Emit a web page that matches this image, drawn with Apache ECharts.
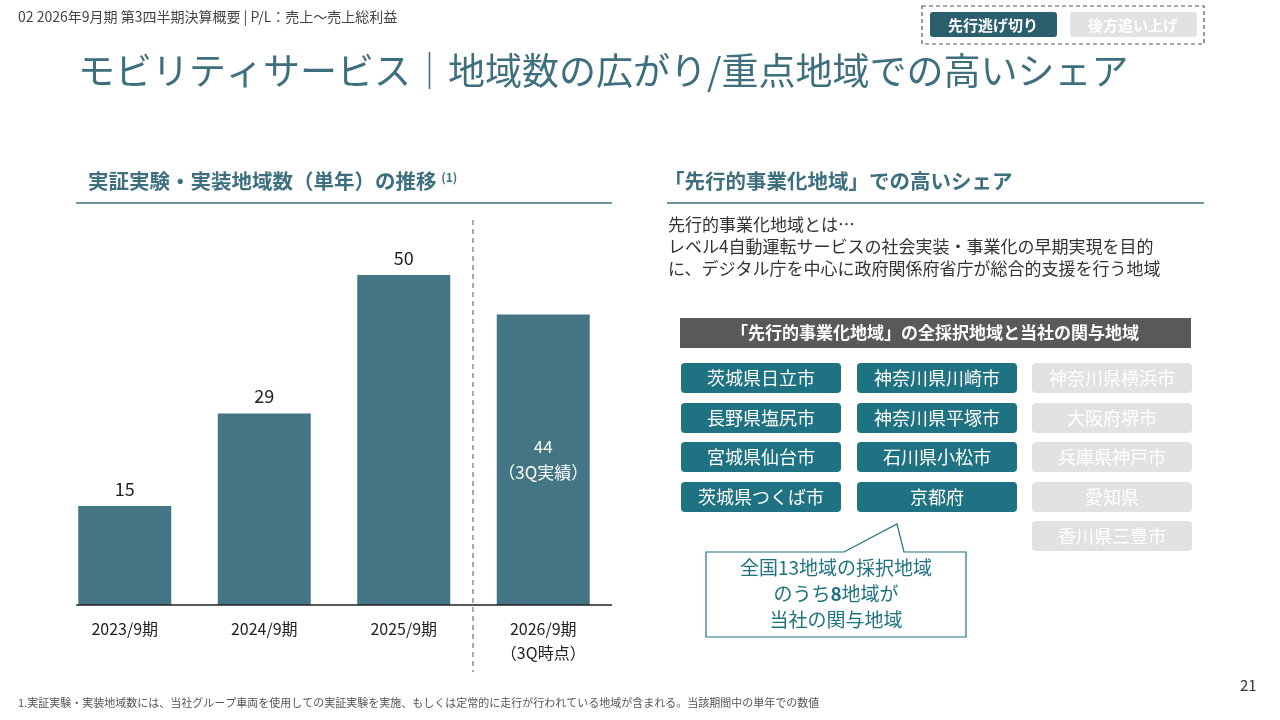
<!DOCTYPE html>
<html><head><meta charset="utf-8">
<script src="https://cdn.jsdelivr.net/npm/echarts@6/dist/echarts.min.js"></script>
<style>html,body{margin:0;padding:0;background:#fff}#c{width:1280px;height:720px}</style>
</head><body><div id="c"></div>
<script>
const categories = ['2023/9期','2024/9期','2025/9期','2026/9期\n（3Q時点）'];
const values = [15, 29, 50, 44];
const activeRegions = ['茨城県日立市','長野県塩尻市','宮城県仙台市','茨城県つくば市','神奈川県川崎市','神奈川県平塚市','石川県小松市','京都府'];
const otherRegions = ['神奈川県横浜市','大阪府堺市','兵庫県神戸市','愛知県','香川県三豊市'];

const F = '"Noto Sans CJK JP","Noto Sans",sans-serif';
const TEAL = '#3d6f7f', BOX = '#1f7282';
const chart = echarts.init(document.getElementById('c'));
const g = [];
function txt(x,y,t,o){g.push({type:'text',left:x,top:y,style:Object.assign({text:t,font:'14px '+F,fill:'#333'},o||{})});}
function txtC(x,y,t,o){g.push({type:'text',x:x,y:y,style:Object.assign({text:t,font:'14px '+F,fill:'#333',textAlign:'center',textVerticalAlign:'middle'},o||{})});}
txt(18,10,'02 2026年9月期 第3四半期決算概要 | P/L：売上〜売上総利益',{font:'14px '+F,fill:'#444'});
txt(78,52,'モビリティサービス｜地域数の広がり/重点地域での高いシェア',{font:'37px '+F,fill:TEAL});
g.push({type:'rect',shape:{x:922,y:6,width:282,height:38},style:{fill:'none',stroke:'#555',lineDash:[4,3],lineWidth:1.2}});
g.push({type:'rect',shape:{x:930,y:12,width:127,height:25,r:3},style:{fill:'#2b5f6e'}});
txtC(993,25,'先行逃げ切り',{font:'bold 15px '+F,fill:'#fff'});
g.push({type:'rect',shape:{x:1070,y:12,width:127,height:25,r:3},style:{fill:'#e2e2e2'}});
txtC(1133,25,'後方追い上げ',{font:'bold 15px '+F,fill:'#fff'});
// left section
g.push({type:'text',left:88,top:171,style:{rich:{a:{font:'bold 20.5px '+F,fill:TEAL},b:{font:'bold 12px '+F,fill:TEAL,verticalAlign:'top',padding:[0,0,8,0]}},text:'{a|実証実験・実装地域数（単年）の推移 }{b|(1)}'}});
g.push({type:'line',shape:{x1:76,y1:203,x2:612,y2:203},style:{stroke:TEAL,lineWidth:1.5}});
g.push({type:'line',shape:{x1:473,y1:220,x2:473,y2:672},style:{stroke:'#555',lineDash:[5,4],lineWidth:1}});
g.push({type:'line',shape:{x1:76,y1:605,x2:612,y2:605},style:{stroke:'#222',lineWidth:1.5},z:10});
// right section
txt(664,171,'「先行的事業化地域」での高いシェア',{font:'bold 20.5px '+F,fill:TEAL});
g.push({type:'line',shape:{x1:667,y1:203,x2:1204,y2:203},style:{stroke:TEAL,lineWidth:1.5}});
txt(668,214,'先行的事業化地域とは…\nレベル4自動運転サービスの社会実装・事業化の早期実現を目的\nに、デジタル庁を中心に政府関係府省庁が総合的支援を行う地域',{font:'17px '+F,fill:'#333',lineHeight:22});
g.push({type:'rect',shape:{x:680,y:318,width:511,height:30},style:{fill:'#595959'}});
txtC(935,333,'「先行的事業化地域」の全採択地域と当社の関与地域',{font:'bold 17px '+F,fill:'#fff'});
const cols=[681,857,1032], W=160, H=30, rows=[363,403,442,482,521];
activeRegions.forEach((r,i)=>{const c=Math.floor(i/4), rr=i%4;
  g.push({type:'rect',shape:{x:cols[c],y:rows[rr],width:W,height:H,r:4},style:{fill:BOX}});
  txtC(cols[c]+W/2,rows[rr]+H/2,r,{font:'18px '+F,fill:'#fff'});});
otherRegions.forEach((r,i)=>{
  g.push({type:'rect',shape:{x:cols[2],y:rows[i],width:W,height:H,r:4},style:{fill:'#e2e2e2'}});
  txtC(cols[2]+W/2,rows[i]+H/2,r,{font:'18px '+F,fill:'#fff'});});
g.push({type:'polygon',shape:{points:[[706,552],[844,552],[897,524],[904,552],[966,552],[966,637],[706,637]]},style:{fill:'#fff',stroke:BOX,lineWidth:1.2}});
g.push({type:'text',x:836,y:594,style:{rich:{n:{font:'19px '+F,fill:BOX,lineHeight:26},b:{font:'bold 19px '+F,fill:BOX,lineHeight:26}},text:'{n|全国13地域の採択地域}\n{n|のうち}{b|8}{n|地域が}\n{n|当社の関与地域}',textAlign:'center',textVerticalAlign:'middle'}});
txt(18,697,'1.実証実験・実装地域数には、当社グループ車両を使用しての実証実験を実施、もしくは定常的に走行が行われている地域が含まれる。当該期間中の単年での数値',{font:'11px '+F,fill:'#555'});
txt(1240,678,'21',{font:'15px '+F,fill:'#333'});

chart.setOption({
  animation:false,
  grid:{left:55,right:667,top:275,bottom:115},
  xAxis:{type:'category',data:categories,axisLine:{show:false},axisTick:{show:false},
    axisLabel:{fontFamily:F,fontSize:16,color:'#222',margin:12,lineHeight:24}},
  yAxis:{type:'value',min:0,max:50,show:false,splitLine:{show:false}},
  series:[{type:'bar',barWidth:93,
    data:values.map((v,i)=>i===3?{value:v,label:{position:'inside',color:'#fff',formatter:'{c}\n（3Q実績）',lineHeight:26,fontSize:17}}:v),
    itemStyle:{color:'#437585'},
    label:{show:true,position:'top',color:'#222',fontSize:18,fontFamily:F,distance:8}}],
  graphic:g
});
</script></body></html>
